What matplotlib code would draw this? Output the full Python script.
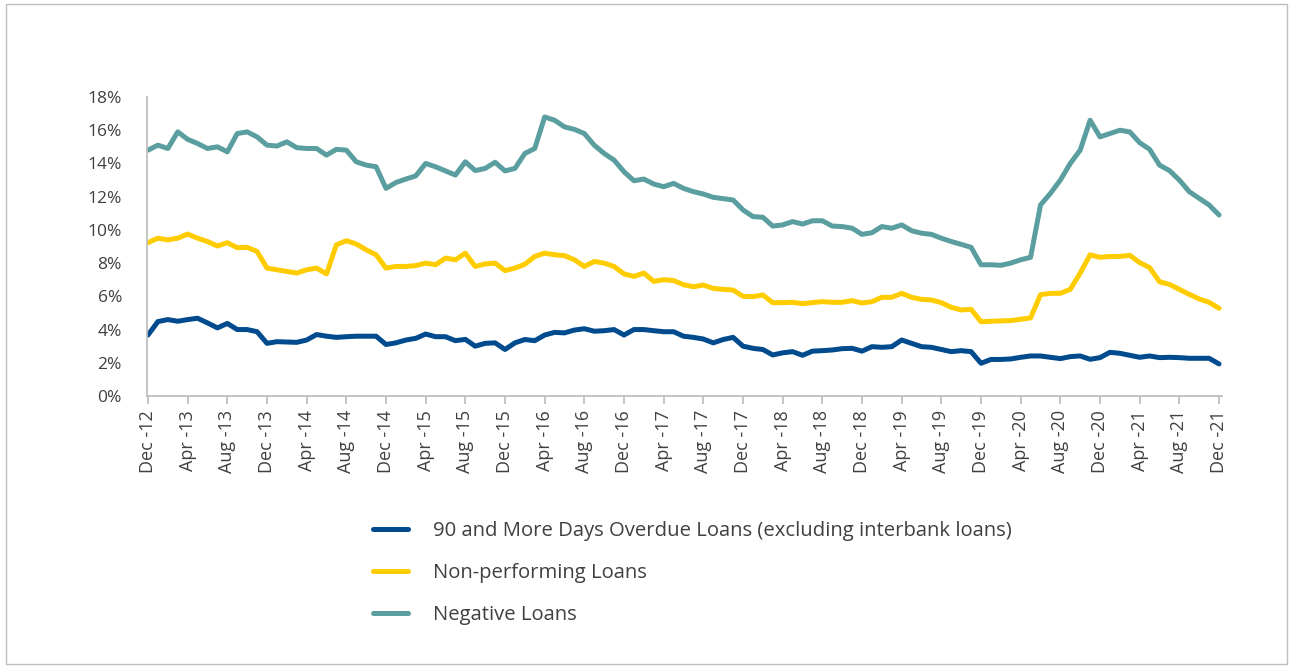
import matplotlib
matplotlib.use("Agg")
import matplotlib.pyplot as plt
from matplotlib.patches import Rectangle
import pandas as pd

# Monthly ratios, Dec 2012 - Dec 2021 (percent)
months = pd.date_range("2012-12-01", "2021-12-01", freq="MS")

overdue_90 = [
    3.67, 4.48, 4.60, 4.50, 4.60, 4.68, 4.40, 4.10, 4.37, 4.00, 4.00, 3.87,
    3.17, 3.27, 3.25, 3.23, 3.37, 3.70, 3.60, 3.53, 3.57, 3.60, 3.60, 3.60,
    3.10, 3.20, 3.37, 3.47, 3.73, 3.57, 3.57, 3.33, 3.41, 3.00, 3.17, 3.20,
    2.80, 3.20, 3.40, 3.33, 3.67, 3.83, 3.80, 3.97, 4.05, 3.90, 3.93, 4.00,
    3.67, 4.00, 4.00, 3.93, 3.87, 3.87, 3.60, 3.53, 3.43, 3.20, 3.40, 3.53,
    3.00, 2.87, 2.80, 2.47, 2.60, 2.67, 2.45, 2.70, 2.73, 2.77, 2.85, 2.87,
    2.70, 2.97, 2.93, 2.97, 3.37, 3.17, 2.97, 2.93, 2.80, 2.67, 2.73, 2.67,
    1.97, 2.20, 2.20, 2.23, 2.33, 2.41, 2.41, 2.33, 2.25, 2.37, 2.41, 2.21,
    2.31, 2.63, 2.57, 2.45, 2.33, 2.41, 2.31, 2.33, 2.31, 2.27, 2.27, 2.27,
    1.93,
]

non_performing = [
    9.23, 9.50, 9.40, 9.50, 9.75, 9.50, 9.30, 9.03, 9.23, 8.93, 8.95, 8.70,
    7.70, 7.60, 7.50, 7.40, 7.60, 7.70, 7.35, 9.10, 9.35, 9.15, 8.80, 8.50,
    7.70, 7.80, 7.80, 7.85, 8.00, 7.90, 8.30, 8.20, 8.60, 7.80, 7.95, 8.00,
    7.55, 7.70, 7.93, 8.40, 8.60, 8.50, 8.45, 8.20, 7.80, 8.10, 8.00, 7.80,
    7.35, 7.20, 7.40, 6.90, 7.00, 6.95, 6.70, 6.58, 6.68, 6.48, 6.42, 6.38,
    6.00, 5.98, 6.08, 5.62, 5.62, 5.64, 5.56, 5.62, 5.68, 5.64, 5.64, 5.74,
    5.60, 5.68, 5.94, 5.94, 6.18, 5.94, 5.82, 5.78, 5.62, 5.34, 5.18, 5.22,
    4.47, 4.50, 4.52, 4.54, 4.62, 4.70, 6.10, 6.18, 6.18, 6.42, 7.40, 8.50,
    8.35, 8.40, 8.40, 8.47, 8.03, 7.73, 6.88, 6.72, 6.42, 6.12, 5.84, 5.64,
    5.28,
]

negative = [
    14.80, 15.10, 14.90, 15.90, 15.45, 15.20, 14.90, 15.00, 14.70, 15.80, 15.90, 15.60,
    15.10, 15.05, 15.30, 14.95, 14.90, 14.90, 14.50, 14.85, 14.80, 14.10, 13.90, 13.80,
    12.50, 12.85, 13.06, 13.25, 14.00, 13.80, 13.55, 13.30, 14.10, 13.57, 13.70, 14.07,
    13.55, 13.70, 14.60, 14.90, 16.80, 16.60, 16.20, 16.05, 15.80, 15.10, 14.60, 14.20,
    13.50, 12.96, 13.06, 12.76, 12.60, 12.80, 12.50, 12.30, 12.16, 11.96, 11.88, 11.80,
    11.20, 10.80, 10.76, 10.23, 10.30, 10.50, 10.35, 10.55, 10.55, 10.23, 10.20, 10.10,
    9.73, 9.83, 10.20, 10.10, 10.30, 9.95, 9.80, 9.73, 9.50, 9.30, 9.13, 8.95,
    7.90, 7.90, 7.87, 8.00, 8.20, 8.35, 11.50, 12.20, 13.00, 14.00, 14.80, 16.60,
    15.60, 15.80, 16.00, 15.90, 15.25, 14.85, 13.90, 13.57, 13.00, 12.30, 11.90, 11.50,
    10.90,
]

series_labels = [
    "90 and More Days Overdue Loans (excluding interbank loans)",
    "Non-performing Loans",
    "Negative Loans",
]
series_colors = ["#004B8D", "#FFCC00", "#5A9E9F"]

tick_step = 4
tick_labels = [f"{d.strftime('%b')} -{d.strftime('%y')}" for d in months[::tick_step]]

plt.rcParams["font.family"] = ["Open Sans", "DejaVu Sans"]

W, H = 1290, 666
fig = plt.figure(figsize=(W / 100, H / 100), dpi=100)
fig.patch.set_facecolor("white")

# thin frame around the whole figure
fig.patches.append(Rectangle((6 / W, 2 / H), 1281 / W, 660 / H, transform=fig.transFigure,
                             fill=False, edgecolor="#BFBFBF", linewidth=1.0))

left, right, top, bottom = 147, 1222, 97, 396
ax = fig.add_axes([left / W, 1 - bottom / H, (right - left) / W, (bottom - top) / H])

x = list(range(len(months)))
for values, label, color in zip([overdue_90, non_performing, negative], series_labels, series_colors):
    ax.plot(x, values, color=color, linewidth=3.6, label=label,
            solid_joinstyle="round", solid_capstyle="round")

ax.set_xlim(-0.1, len(months) - 0.7)
ax.set_ylim(0, 18)
ax.set_yticks(range(0, 19, 2))
ax.set_yticklabels([f"{v}%" for v in range(0, 19, 2)])
ax.set_xticks(x[::tick_step])
ax.set_xticklabels(tick_labels, rotation=90)

for side in ["top", "right"]:
    ax.spines[side].set_visible(False)
for side in ["left", "bottom"]:
    ax.spines[side].set_color("#BFBFBF")
    ax.spines[side].set_linewidth(1.3)

ax.tick_params(axis="y", length=0, pad=18, labelsize=12.5, labelcolor="#404040")
ax.tick_params(axis="x", length=6, width=1.3, color="#BFBFBF", pad=4,
               labelsize=13, labelcolor="#404040")

fig.legend(loc="upper left", bbox_to_anchor=(355 / W, 1 - 503 / H), frameon=False,
           fontsize=14.6, handlelength=1.72, handletextpad=1.23, labelspacing=1.08,
           labelcolor="#404040")

fig.savefig("out.png", dpi=100, facecolor="white")
